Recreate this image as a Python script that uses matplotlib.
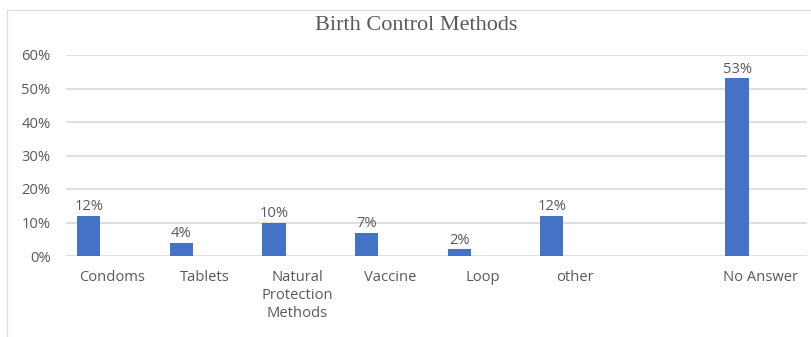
import matplotlib
matplotlib.use("Agg")
import matplotlib.pyplot as plt
from matplotlib.lines import Line2D

categories = ["Condoms", "Tablets", "Natural\nProtection\nMethods", "Vaccine",
              "Loop", "other", "", "No Answer"]
values = [12, 4, 10, 7, 2, 12, None, 53]
y_ticks = [0, 10, 20, 30, 40, 50, 60]
title = "Birth Control Methods"

W, H = 812, 337
fig = plt.figure(figsize=(W / 100, H / 100), dpi=100)

# plot area in pixel coordinates
left, right = 66, 807
top, bottom = 55, 256
ax = fig.add_axes([left / W, 1 - bottom / H, (right - left) / W, (bottom - top) / H])

bar_color = "#4472C4"
text_color = "#595959"
grid_color = "#D9D9D9"
sans = ["Open Sans", "DejaVu Sans"]
fs = 10.6

n = len(categories)
ax.set_xlim(-0.5, n - 0.5)
ax.set_ylim(0, 60)

bar_w = 0.25
offset = -0.255
for i, v in enumerate(values):
    if v is None:
        continue
    ax.bar(i + offset, v, width=bar_w, color=bar_color, zorder=3)
    ax.text(i + offset, v + 0.5, f"{v}%", ha="center", va="bottom",
            fontsize=fs, color=text_color, family=sans)

for t in y_ticks:
    ax.axhline(t, color=grid_color, lw=1.2, zorder=1)

ax.set_yticks(y_ticks)
ax.set_yticklabels([f"{t}%" for t in y_ticks], fontsize=fs, color=text_color, family=sans)
ax.set_xticks(range(n))
ax.set_xticklabels(categories, fontsize=fs, color=text_color, family=sans,
                   linespacing=1.3, va="top")
ax.tick_params(axis="both", length=0)
ax.tick_params(axis="y", pad=11)
ax.tick_params(axis="x", pad=10)
for s in ax.spines.values():
    s.set_visible(False)

fig.text(416 / W, 1 - 25 / H, title, ha="center", va="center",
         fontsize=16, color=text_color, family=["Liberation Serif", "DejaVu Serif"])

# chart area outline (top and left edges)
fig.add_artist(Line2D([7 / W, 1], [1 - 10 / H, 1 - 10 / H], color="#E0E0E0", lw=1,
                      transform=fig.transFigure))
fig.add_artist(Line2D([7 / W, 7 / W], [1 - 10 / H, 0], color="#E0E0E0", lw=1,
                      transform=fig.transFigure))

fig.savefig("out.png", dpi=100, facecolor="white")
